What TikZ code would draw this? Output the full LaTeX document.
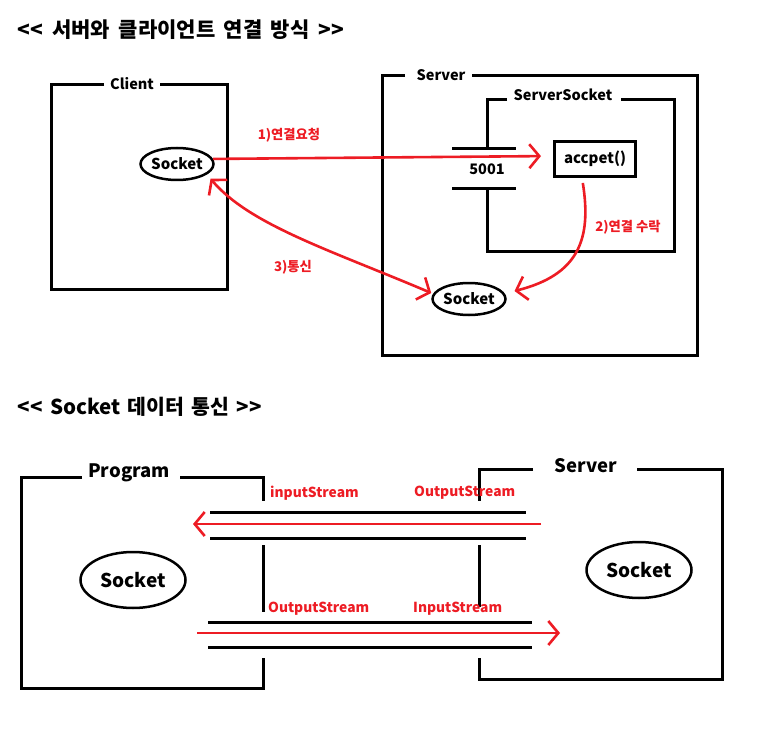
\documentclass[tikz,border=0pt]{standalone}
\usepackage{fontspec}
\setmainfont{Noto Sans CJK KR}
\usetikzlibrary{arrows.meta,shapes.geometric}
\definecolor{pred}{RGB}{237,28,36}
\newcommand{\wsp}{\hspace{8.5pt}}
\newcommand{\wspb}{\hspace{7pt}}
\begin{document}
\begin{tikzpicture}[x=1pt,y=-1pt,
  box/.style={line width=3pt, line join=miter},
  ttl/.style={font=\fontsize{21}{24}\selectfont\bfseries, inner sep=0pt, anchor=west},
  ttlb/.style={font=\fontsize{20.5}{24}\selectfont\bfseries, inner sep=0pt, anchor=west},
  lbl/.style={font=\fontsize{14.5}{18}\selectfont\bfseries, inner sep=0pt},
  lblb/.style={font=\fontsize{18.5}{22}\selectfont\bfseries, inner sep=0pt},
  rlbl/.style={font=\fontsize{13.3}{15}\selectfont\bfseries, text=pred, inner sep=0pt},
  rlblb/.style={font=\fontsize{13.8}{17}\selectfont\bfseries, text=pred, inner sep=0pt, anchor=west},
  sock/.style={draw, ellipse, line width=2.5pt, inner sep=0pt, minimum width=69pt, minimum height=32pt, font=\fontsize{15}{18}\selectfont\bfseries},
  sockb/.style={draw, ellipse, line width=2.5pt, inner sep=0pt, minimum width=105pt, minimum height=56pt, font=\fontsize{19}{22}\selectfont\bfseries},
  redarrow/.style={draw=pred, line width=2.6pt, -{Straight Barb[length=10pt,width=24pt]}},
  redboth/.style={draw=pred, line width=2.6pt, {Straight Barb[length=10pt,width=24pt]}-{Straight Barb[length=10pt,width=24pt]}},
]
\useasboundingbox (0,0) rectangle (760,738);

% ---------- top section ----------
\node[ttl] (t1) at (17,30) {<\kern1pt<\wsp 서버와\wsp 클라이언트\wsp 연결\wsp 방식\wsp >\kern1pt>};

% Client box
\draw[box] (104,85) -- (51,85) -- (51,289) -- (227,289) -- (227,85) -- (160,85);
\node[lbl] (client) at (132,84) {Client};
\node[sock] (csock) at (177,164) {Socket};

% Server box
\draw[box] (405,76) -- (382,76) -- (382,355) -- (697,355) -- (697,76) -- (472,76);
\node[lbl] (server) at (441,75) {Server};

% ServerSocket box
\draw[box] (507,100) -- (487,100) -- (487,149);
\draw[box] (487,189) -- (487,251) -- (674,251) -- (674,100) -- (621,100);
\node[lbl] (ss) at (563,95) {ServerSocket};
\draw[box] (452,149) -- (516,149);
\draw[box] (452,189) -- (516,189);
\node[lbl] (port) at (487,169) {5001};
\node[draw, line width=3pt, minimum width=81pt, minimum height=35pt, inner sep=0pt, font=\fontsize{15}{18}\selectfont\bfseries] (acc) at (595,159) {accpet()};

\node[sock] (ssock) at (469,299) {Socket};

% arrows
\draw[redarrow, shorten >=12pt] (csock.8) -- ([yshift=3pt]acc.west);
\node[rlbl] (l1) at (289,135) {1)연결요청};

\draw[redarrow, shorten <=5pt, shorten >=8pt] ([xshift=-13pt]acc.south) .. controls (592,240) and (578,275) .. ([yshift=6pt]ssock.east);
\node[rlbl] (l2) at (628,227) {2)연결 수락};

\draw[redboth] ([xshift=4pt,yshift=-4pt]csock.-20) .. controls (250,225) and (330,250) .. ([yshift=6pt]ssock.west);
\node[rlbl] (l3) at (293,267) {3)통신};

% ---------- bottom section ----------
\node[ttlb] (t2) at (17,407) {<\kern1pt<\wspb Socket\wspb 데이터\wspb 통신\wspb >\kern1pt>};

% Program box
\draw[box] (82,477) -- (21,477) -- (21,688) -- (263,688) -- (263,658);
\draw[box] (180,477) -- (263,477) -- (263,501);
\draw[box] (263,545) -- (263,612);
\node[lblb] (prog) at (129,473) {Program};
\node[sockb] (psock) at (133,580) {Socket};

% Server box
\draw[box] (533,469) -- (479,469) -- (479,501);
\draw[box] (637,469) -- (722,469) -- (722,679) -- (479,679) -- (479,658);
\draw[box] (479,545) -- (479,607);
\node[lblb] (server2) at (586,466) {Server};
\node[sockb] (ssock2) at (639,570) {Socket};

% stream channels
\draw[box] (210,512) -- (526,512);
\draw[box] (210,538) -- (526,538);
\draw[box] (208,622) -- (532,622);
\draw[box] (208,647) -- (532,647);

\coordinate (inR) at (541,524);
\coordinate (inL) at (193,524);
\coordinate (outL) at (197,633);
\coordinate (outR) at (560,633);
\draw[redarrow] (inR) -- (inL);
\draw[redarrow] (outL) -- (outR);

\node[rlblb] (is1) at (270,493) {inputStream};
\node[rlblb] (os1) at (268,609) {OutputStream};
\node[rlblb] (os2) at (414,493) {OutputStream};
\node[rlblb] (is2) at (413,609) {InputStream};
\end{tikzpicture}
\end{document}
